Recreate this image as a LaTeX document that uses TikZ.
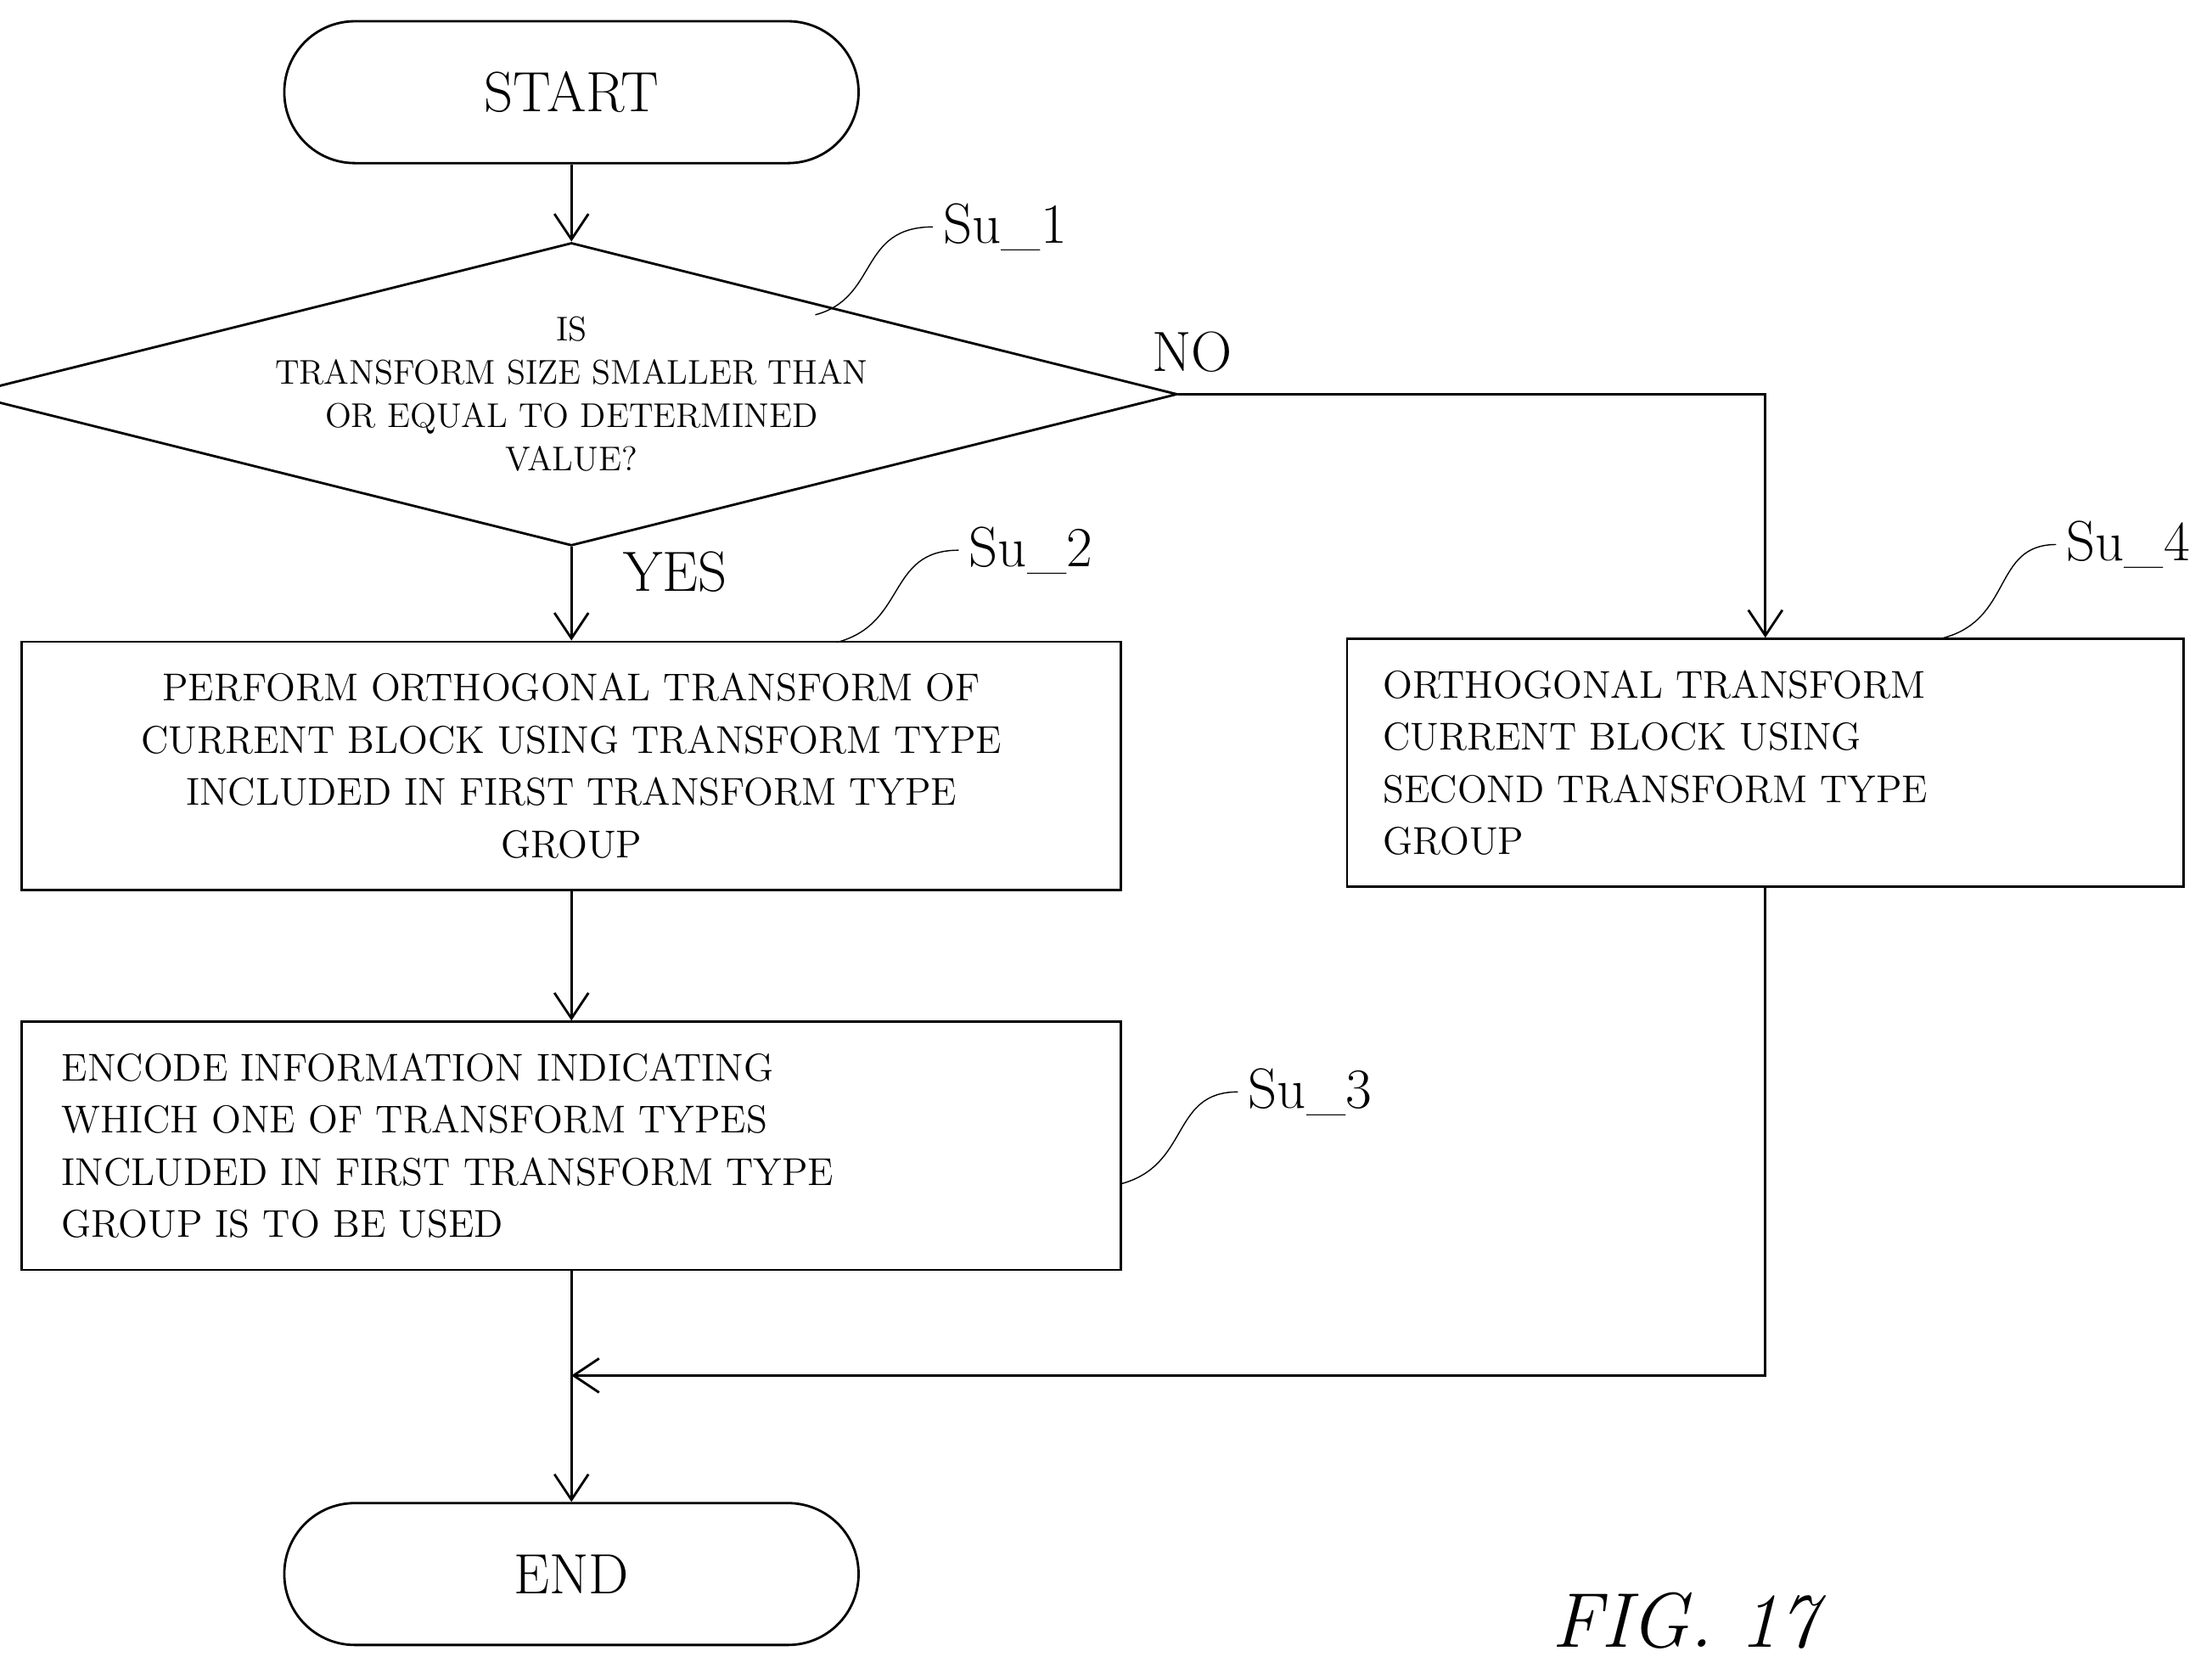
\documentclass[tikz,border=0pt]{standalone}
\usepackage{tikz}
\usetikzlibrary{arrows.meta, shapes.geometric}

\begin{document}
\begin{tikzpicture}[
  x=0.0167cm, y=-0.0167cm,
  font=\fontsize{13}{17.5}\selectfont,
  terminal/.style={draw, thick, rounded corners=0.83cm, minimum width=6.76cm, minimum height=1.67cm, font=\fontsize{19}{22}\selectfont},
  process/.style={draw, thick, minimum width=12.94cm, minimum height=2.92cm, align=center},
  decision/.style={draw, thick, diamond, shape aspect=4, inner sep=0pt, minimum width=12.4cm, minimum height=3.0cm, align=center, font=\fontsize{11.5}{14.5}\selectfont},
  tag/.style={font=\fontsize{19}{22}\selectfont},
  line/.style={thick, -{Straight Barb[length=3mm, width=4mm]}},
  leader/.style={thin}
]
\useasboundingbox (0,0) rectangle (1560,1176);

% Nodes
\node[terminal] (start) at (403,65) {START};
\node[decision] (test) at (403,278) {IS\\TRANSFORM SIZE SMALLER THAN\\OR EQUAL TO DETERMINED\\VALUE?};
\node[process] (first) at (403,540) {PERFORM ORTHOGONAL TRANSFORM OF\\CURRENT BLOCK USING TRANSFORM TYPE\\INCLUDED IN FIRST TRANSFORM TYPE\\GROUP};
\node[process, align=left, text width=12.0cm] (encode) at (403,808) {ENCODE INFORMATION INDICATING\\WHICH ONE OF TRANSFORM TYPES\\INCLUDED IN FIRST TRANSFORM TYPE\\GROUP IS TO BE USED};
\node[process, align=left, minimum width=9.85cm, text width=9.0cm] (second) at (1245,538) {ORTHOGONAL TRANSFORM\\CURRENT BLOCK USING\\SECOND TRANSFORM TYPE\\GROUP};
\node[terminal] (end) at (403,1110) {END};
\coordinate (turn) at (1245,278);
\coordinate (join) at (1245,970);
\coordinate (merge) at (403,970);

% Step labels
\node[tag, anchor=west] (su1) at (658,160) {Su\_1};
\node[tag, anchor=west] (su2) at (676,388) {Su\_2};
\node[tag, anchor=west] (su3) at (873,770) {Su\_3};
\node[tag, anchor=west] (su4) at (1450,384) {Su\_4};
\draw[leader] (575,222) .. controls (620,210) and (605,160) .. (su1.west);
\draw[leader] (590,453) .. controls (640,440) and (625,388) .. (su2.west);
\draw[leader] (790,835) .. controls (840,822) and (825,770) .. (su3.west);
\draw[leader] (1370,450) .. controls (1420,437) and (1405,384) .. (su4.west);

% Branch labels
\node[tag, anchor=west] (no) at (805,248) {NO};
\node[tag, anchor=west] (yes) at (432,403) {YES};

% Connections
\draw[line] (start) -- (test);
\draw[line] (test) -- (first);
\draw[line] (first) -- (encode);
\draw[line] (test.east) -- (turn) -- (second.north);
\draw[line] (second.south) -- (join) -- (merge);
\draw[line] (encode) -- (end);

\node[font=\fontsize{26}{30}\selectfont\itshape] (fig) at (1188,1143) {FIG. 17};
\end{tikzpicture}
\end{document}
